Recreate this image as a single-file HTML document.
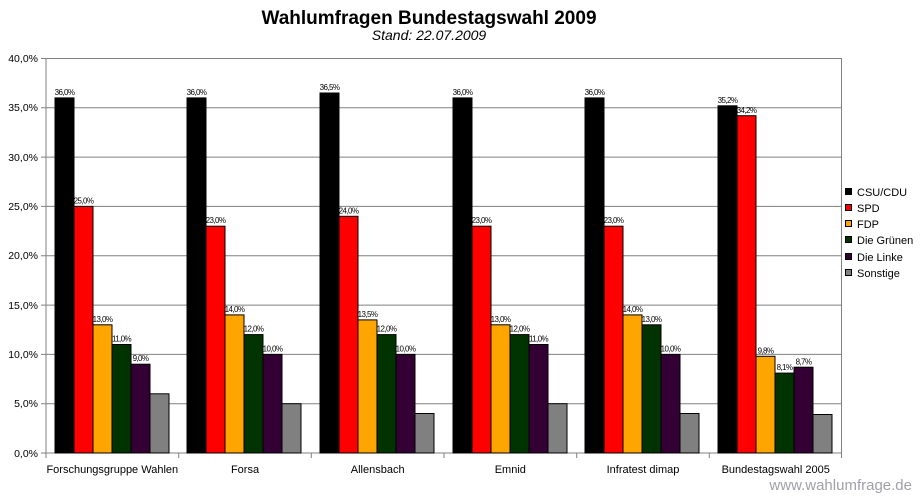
<!DOCTYPE html>
<html><head><meta charset="utf-8"><style>
html,body{margin:0;padding:0;background:#fff;}
svg{display:block;font-family:"Liberation Sans",sans-serif;}
.v{font-size:8px;text-anchor:middle;letter-spacing:-0.6px;}
.y{font-size:10.5px;text-anchor:end;}
.c{font-size:11px;text-anchor:middle;}
.l{font-size:11px;}
</style></head><body>
<svg width="921" height="504" viewBox="0 0 921 504">
<rect width="921" height="504" fill="#fff"/>
<text x="429" y="24" font-size="19" font-weight="bold" text-anchor="middle">Wahlumfragen Bundestagswahl 2009</text>
<text x="429" y="40" font-size="14" font-style="italic" text-anchor="middle">Stand: 22.07.2009</text>
<g stroke="#808080" stroke-width="1">
<line x1="41" y1="58.5" x2="842" y2="58.5"/>
<line x1="41" y1="107.8" x2="842" y2="107.8"/>
<line x1="41" y1="157.1" x2="842" y2="157.1"/>
<line x1="41" y1="206.4" x2="842" y2="206.4"/>
<line x1="41" y1="255.8" x2="842" y2="255.8"/>
<line x1="41" y1="305.1" x2="842" y2="305.1"/>
<line x1="41" y1="354.4" x2="842" y2="354.4"/>
<line x1="41" y1="403.7" x2="842" y2="403.7"/>
<line x1="41" y1="453" x2="842" y2="453"/>
<line x1="46" y1="58.5" x2="46" y2="458"/>
<line x1="841.5" y1="58.5" x2="841.5" y2="458"/>
<line x1="178.7" y1="453" x2="178.7" y2="458"/>
<line x1="311.3" y1="453" x2="311.3" y2="458"/>
<line x1="444" y1="453" x2="444" y2="458"/>
<line x1="576.7" y1="453" x2="576.7" y2="458"/>
<line x1="709.3" y1="453" x2="709.3" y2="458"/>
</g>
<g>
<text class="y" x="38" y="62">40,0%</text>
<text class="y" x="38" y="111">35,0%</text>
<text class="y" x="38" y="161">30,0%</text>
<text class="y" x="38" y="210">25,0%</text>
<text class="y" x="38" y="259">20,0%</text>
<text class="y" x="38" y="309">15,0%</text>
<text class="y" x="38" y="358">10,0%</text>
<text class="y" x="38" y="407">5,0%</text>
<text class="y" x="38" y="457">0,0%</text>
</g>
<g stroke="#000" stroke-width="1">
<!-- Group 1 -->
<rect x="55" y="97.9" width="19" height="355.1" fill="#000"/>
<rect x="74" y="206.4" width="19" height="246.6" fill="#ff0000"/>
<rect x="93" y="324.8" width="19" height="128.2" fill="#ffa500"/>
<rect x="112" y="344.5" width="19" height="108.5" fill="#003300"/>
<rect x="131" y="364.2" width="19" height="88.8" fill="#330033"/>
<rect x="150" y="393.8" width="19" height="59.2" fill="#808080"/>
<!-- Group 2 -->
<rect x="187" y="97.9" width="19" height="355.1" fill="#000"/>
<rect x="206" y="226.2" width="19" height="226.8" fill="#ff0000"/>
<rect x="225" y="314.9" width="19" height="138.1" fill="#ffa500"/>
<rect x="244" y="334.6" width="19" height="118.4" fill="#003300"/>
<rect x="263" y="354.4" width="19" height="98.6" fill="#330033"/>
<rect x="282" y="403.7" width="19" height="49.3" fill="#808080"/>
<!-- Group 3 -->
<rect x="320" y="93" width="19" height="360" fill="#000"/>
<rect x="339" y="216.3" width="19" height="236.7" fill="#ff0000"/>
<rect x="358" y="319.9" width="19" height="133.1" fill="#ffa500"/>
<rect x="377" y="334.6" width="19" height="118.4" fill="#003300"/>
<rect x="396" y="354.4" width="19" height="98.6" fill="#330033"/>
<rect x="415" y="413.5" width="19" height="39.5" fill="#808080"/>
<!-- Group 4 -->
<rect x="453" y="97.9" width="19" height="355.1" fill="#000"/>
<rect x="472" y="226.2" width="19" height="226.8" fill="#ff0000"/>
<rect x="491" y="324.8" width="19" height="128.2" fill="#ffa500"/>
<rect x="510" y="334.6" width="19" height="118.4" fill="#003300"/>
<rect x="529" y="344.5" width="19" height="108.5" fill="#330033"/>
<rect x="548" y="403.7" width="19" height="49.3" fill="#808080"/>
<!-- Group 5 -->
<rect x="585" y="97.9" width="19" height="355.1" fill="#000"/>
<rect x="604" y="226.2" width="19" height="226.8" fill="#ff0000"/>
<rect x="623" y="314.9" width="19" height="138.1" fill="#ffa500"/>
<rect x="642" y="324.8" width="19" height="128.2" fill="#003300"/>
<rect x="661" y="354.4" width="19" height="98.6" fill="#330033"/>
<rect x="680" y="413.5" width="19" height="39.5" fill="#808080"/>
<!-- Group 6 -->
<rect x="718" y="105.8" width="19" height="347.2" fill="#000"/>
<rect x="737" y="115.7" width="19" height="337.3" fill="#ff0000"/>
<rect x="756" y="356.3" width="19" height="96.7" fill="#ffa500"/>
<rect x="775" y="373.1" width="19" height="79.9" fill="#003300"/>
<rect x="794" y="367.2" width="19" height="85.8" fill="#330033"/>
<rect x="813" y="414.5" width="19" height="38.5" fill="#808080"/>
</g>
<g>
<text class="v" x="64.5" y="95">36,0%</text>
<text class="v" x="83.5" y="203.5">25,0%</text>
<text class="v" x="102.5" y="322">13,0%</text>
<text class="v" x="121.5" y="341.5">11,0%</text>
<text class="v" x="140.5" y="361">9,0%</text>

<text class="v" x="196.5" y="95">36,0%</text>
<text class="v" x="215.5" y="223">23,0%</text>
<text class="v" x="234.5" y="312">14,0%</text>
<text class="v" x="253.5" y="331.5">12,0%</text>
<text class="v" x="272.5" y="351.5">10,0%</text>

<text class="v" x="329.5" y="90">36,5%</text>
<text class="v" x="348.5" y="213.5">24,0%</text>
<text class="v" x="367.5" y="317">13,5%</text>
<text class="v" x="386.5" y="331.5">12,0%</text>
<text class="v" x="405.5" y="351.5">10,0%</text>

<text class="v" x="462.5" y="95">36,0%</text>
<text class="v" x="481.5" y="223">23,0%</text>
<text class="v" x="500.5" y="322">13,0%</text>
<text class="v" x="519.5" y="331.5">12,0%</text>
<text class="v" x="538.5" y="341.5">11,0%</text>

<text class="v" x="594.5" y="95">36,0%</text>
<text class="v" x="613.5" y="223">23,0%</text>
<text class="v" x="632.5" y="312">14,0%</text>
<text class="v" x="651.5" y="322">13,0%</text>
<text class="v" x="670.5" y="351.5">10,0%</text>

<text class="v" x="727.5" y="103">35,2%</text>
<text class="v" x="746.5" y="113">34,2%</text>
<text class="v" x="765.5" y="353.5">9,8%</text>
<text class="v" x="784.5" y="370">8,1%</text>
<text class="v" x="803.5" y="364.5">8,7%</text>
</g>
<g>
<text class="c" x="112.3" y="473">Forschungsgruppe Wahlen</text>
<text class="c" x="245" y="473">Forsa</text>
<text class="c" x="377.7" y="473">Allensbach</text>
<text class="c" x="510.3" y="473">Emnid</text>
<text class="c" x="643" y="473">Infratest dimap</text>
<text class="c" x="775.7" y="473">Bundestagswahl 2005</text>
</g>
<g stroke="#000" stroke-width="1">
<rect x="845.5" y="188.5" width="6" height="6" fill="#000"/>
<rect x="845.5" y="204.5" width="6" height="6" fill="#ff0000"/>
<rect x="845.5" y="220.5" width="6" height="6" fill="#ffa500"/>
<rect x="845.5" y="236.5" width="6" height="6" fill="#003300"/>
<rect x="845.5" y="253.5" width="6" height="6" fill="#330033"/>
<rect x="845.5" y="269.5" width="6" height="6" fill="#808080"/>
</g>
<g>
<text class="l" x="857" y="196">CSU/CDU</text>
<text class="l" x="857" y="212">SPD</text>
<text class="l" x="857" y="228">FDP</text>
<text class="l" x="857" y="244">Die Grünen</text>
<text class="l" x="857" y="261">Die Linke</text>
<text class="l" x="857" y="277">Sonstige</text>
</g>
<text x="912" y="490" font-size="15" fill="#a0a0a8" text-anchor="end">www.wahlumfrage.de</text>
</svg>
</body></html>
